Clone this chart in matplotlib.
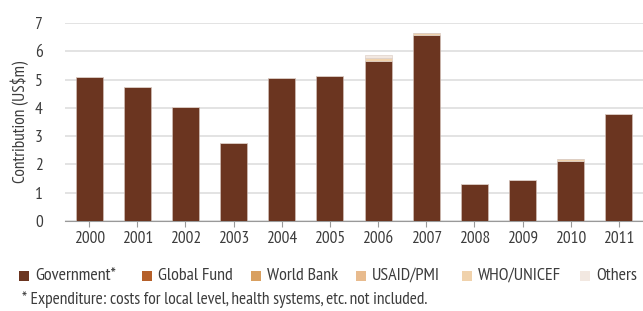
import matplotlib.pyplot as plt
import numpy as np
from matplotlib.patches import Rectangle

years = ["2000", "2001", "2002", "2003", "2004", "2005",
         "2006", "2007", "2008", "2009", "2010", "2011"]
government = [5.09, 4.72, 4.02, 2.77, 5.05, 5.12, 5.67, 6.57, 1.30, 1.46, 2.12, 3.80]
global_fund = [0, 0, 0, 0, 0, 0, 0, 0, 0, 0, 0, 0]
world_bank = [0, 0, 0, 0, 0, 0, 0, 0, 0, 0, 0, 0]
usaid_pmi = [0, 0, 0, 0, 0, 0, 0, 0, 0, 0, 0, 0]
who_unicef = [0, 0, 0, 0, 0, 0, 0.08, 0.07, 0, 0, 0.08, 0]
others = [0, 0, 0, 0, 0, 0, 0.11, 0, 0, 0, 0, 0]

series = [
    ("Government*", government, "#6b3520"),
    ("Global Fund", global_fund, "#b5602a"),
    ("World Bank", world_bank, "#d9a060"),
    ("USAID/PMI", usaid_pmi, "#e8bb8e"),
    ("WHO/UNICEF", who_unicef, "#f0d2ac"),
    ("Others", others, "#f2e8e1"),
]

plt.rcParams["font.family"] = ["PT Sans Narrow", "DejaVu Sans"]
text_col = "#3c3c3c"
W, H = 643, 311

fig = plt.figure(figsize=(6.43, 3.11), dpi=100)
ax = fig.add_axes([65 / W, 90 / H, 578 / W, 198 / H])

x = np.arange(len(years))
bottom = np.zeros(len(years))
for name, vals, col in series:
    vals = np.array(vals)
    ax.bar(x, vals, 0.56, bottom=bottom, color=col, edgecolor="#d8c8c0",
           linewidth=0.4, zorder=3)
    bottom += vals

ax.set_xlim(-0.5, 11.5)
ax.set_ylim(0, 7)
ax.set_yticks(range(8))
ax.set_xticks(x)
ax.set_xticklabels(years)
ax.grid(axis="y", color="#dedede", linewidth=1.2, zorder=0)
for s in ["top", "right", "left"]:
    ax.spines[s].set_visible(False)
ax.spines["bottom"].set_color("#999999")
ax.tick_params(axis="y", length=0, labelsize=12.5, labelcolor=text_col, pad=16)
ax.tick_params(axis="x", length=4, color="#999999", labelsize=12.5,
               labelcolor=text_col, pad=3)
ax.set_ylabel("Contribution (US\\$m)", fontsize=12.5, color=text_col, labelpad=4)

# legend laid out by hand, one square + label per series
square_x = [19, 142, 251, 356, 462, 580]
leg_y = 276
for (name, _, col), sx in zip(series, square_x):
    fig.patches.append(Rectangle((sx / W, (H - leg_y - 5) / H), 10 / W, 10 / H,
                                 transform=fig.transFigure, facecolor=col,
                                 edgecolor="none"))
    fig.text((sx + 16) / W, (H - leg_y) / H, name, fontsize=13,
             color=text_col, va="center")

fig.text(22 / W, (H - 300) / H,
         "* Expenditure: costs for local level, health systems, etc. not included.",
         fontsize=12.5, color=text_col, va="center")

fig.savefig("out.png", dpi=100)
